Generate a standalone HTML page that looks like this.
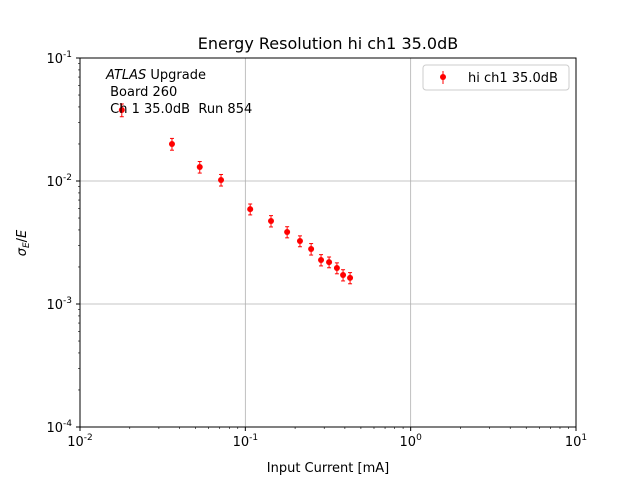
<!DOCTYPE html>
<html><head><meta charset="utf-8"><style>
body{margin:0;background:#fff}
svg text{font-family:"DejaVu Sans","Liberation Sans",sans-serif;fill:#000}
</style></head><body>
<svg id="chart" width="640" height="480">
<rect x="0" y="0" width="640" height="480" fill="#fff"/>
<text x="328" y="49" font-size="16" text-anchor="middle">Energy Resolution hi ch1 35.0dB</text>
<g id="grid"></g>
<g id="ticks"></g>
<g id="marks"></g>
<rect x="80" y="58" width="496" height="369" fill="none" stroke="#000" stroke-width="1"/>
<text x="328" y="472" font-size="13" text-anchor="middle">Input Current [mA]</text>
<text transform="translate(26,243) rotate(-90)" font-size="13" text-anchor="middle"><tspan font-style="italic">σ</tspan><tspan font-size="9" dy="3" font-style="italic">E</tspan><tspan dy="-3">/</tspan><tspan font-style="italic">E</tspan></text>
<g>
<text x="106" y="79" font-size="13"><tspan font-style="italic">ATLAS</tspan> Upgrade</text>
<text x="106" y="96" font-size="13">&#160;Board 260</text>
<text x="106" y="113" font-size="13">&#160;Ch 1 35.0dB&#160;&#160;Run 854</text>
</g>
<g>
<rect x="423" y="65" width="146" height="25" rx="3" fill="#fff" stroke="#ccc"/>
<line x1="443" y1="71" x2="443" y2="84" stroke="#f00"/>
<circle cx="443" cy="77" r="3" fill="#f00"/>
<text x="468" y="82" font-size="13">hi ch1 35.0dB</text>
</g>
</svg>
<script>
const xValues=[0.0179,0.036,0.053,0.0713,0.107,0.143,0.179,0.214,0.25,0.287,0.321,0.358,0.39,0.43];
const yValues=[0.0378,0.020,0.0130,0.0102,0.0059,0.00473,0.00385,0.00325,0.0028,0.00228,0.00219,0.00196,0.00172,0.00163];
const yErrors=[0.0045,0.0022,0.0014,0.0011,0.0006,0.0005,0.0004,0.00033,0.0003,0.00024,0.00022,0.0002,0.00018,0.00017];
const xTickExps=[-2,-1,0,1];
const yTickExps=[-4,-3,-2,-1];
const NS="http://www.w3.org/2000/svg";
const X0=80,X1=576,Y0=427,Y1=58;
function sx(v){return X0+(Math.log10(v)+2)/3*(X1-X0);}
function sy(v){return Y0-(Math.log10(v)+4)/3*(Y0-Y1);}
function mk(t,a,p){const e=document.createElementNS(NS,t);for(const k in a)e.setAttribute(k,a[k]);p.appendChild(e);return e;}
const grid=document.getElementById('grid'),ticks=document.getElementById('ticks'),marks=document.getElementById('marks');
xTickExps.forEach(ex=>{const x=sx(Math.pow(10,ex));
 const g=mk('line',{x1:x,x2:x,y1:Y1,y2:Y0,stroke:'#b0b0b0','stroke-width':0.8},grid);
 
 
 mk('line',{x1:x,x2:x,y1:Y0,y2:Y0+4,stroke:'#000'},ticks);
 for(let m=2;m<10&&ex<1;m++){const xm=sx(m*Math.pow(10,ex));mk('line',{x1:xm,x2:xm,y1:Y0,y2:Y0+2,stroke:'#000','stroke-width':0.6},ticks);}
 const t=mk('text',{x:x,y:Y0+19,'font-size':13,'text-anchor':'middle'},ticks);
 
 
 t.innerHTML='10<tspan font-size="9" dy="-6">'+ex+'</tspan>';});
yTickExps.forEach(ex=>{const y=sy(Math.pow(10,ex));
 const g=mk('line',{x1:X0,x2:X1,y1:y,y2:y,stroke:'#b0b0b0','stroke-width':0.8},grid);
 
 
 mk('line',{x1:X0-4,x2:X0,y1:y,y2:y,stroke:'#000'},ticks);
 for(let m=2;m<10&&ex<-1;m++){const ym=sy(m*Math.pow(10,ex));mk('line',{x1:X0-2,x2:X0,y1:ym,y2:ym,stroke:'#000','stroke-width':0.6},ticks);}
 const t=mk('text',{x:X0-8,y:y+5,'font-size':13,'text-anchor':'end'},ticks);
 
 
 t.innerHTML='10<tspan font-size="9" dy="-6">'+ex+'</tspan>';});
xValues.forEach((xv,i)=>{const x=sx(xv),y=sy(yValues[i]);
 const ya=sy(yValues[i]+yErrors[i]),yb=sy(yValues[i]-yErrors[i]);
 const g=mk('g',{},marks);
 
 
 mk('line',{x1:x,x2:x,y1:ya,y2:yb,stroke:'#f00'},g);
 mk('line',{x1:x-2,x2:x+2,y1:ya,y2:ya,stroke:'#f00'},g);
 mk('line',{x1:x-2,x2:x+2,y1:yb,y2:yb,stroke:'#f00'},g);
 mk('circle',{cx:x,cy:y,r:3,fill:'#f00'},g);});
</script>
</body></html>
